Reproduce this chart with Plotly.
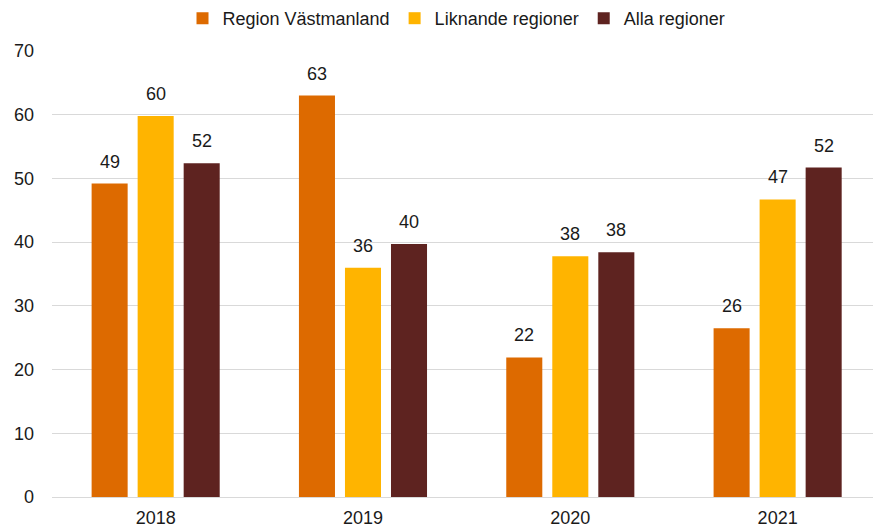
import plotly.graph_objects as go

years = ["2018", "2019", "2020", "2021"]
region_vastmanland = [49.2, 63.0, 21.9, 26.5]
liknande_regioner = [59.8, 36.0, 37.8, 46.7]
alla_regioner = [52.4, 39.7, 38.4, 51.7]

series = [
    ("Region Västmanland", region_vastmanland, "#DD6A00"),
    ("Liknande regioner", liknande_regioner, "#FFB400"),
    ("Alla regioner", alla_regioner, "#5E2320"),
]

FONT = "Liberation Sans, Arial, sans-serif"
TXT = "#1a1a1a"
bargap = 0.334
slot = (1 - bargap) / len(series)

x_idx = list(range(len(years)))

fig = go.Figure()
annotations = []
for i, (name, vals, col) in enumerate(series):
    fig.add_trace(go.Bar(
        name=name, x=x_idx, y=vals,
        marker=dict(color=col, line=dict(width=0)),
        hoverinfo="skip",
    ))
    for xi, v in zip(x_idx, vals):
        annotations.append(dict(
            x=xi + (i - 1) * slot, y=v, xref="x", yref="y",
            text=f"{round(v):d}", showarrow=False,
            yanchor="middle", yshift=22,
            font=dict(family=FONT, size=18, color=TXT),
        ))

fig.update_layout(
    width=873, height=528,
    margin=dict(l=52, r=0, t=51, b=31, autoexpand=False),
    paper_bgcolor="white", plot_bgcolor="white",
    barmode="group", bargap=bargap, bargroupgap=0.217,
    font=dict(family=FONT, size=18, color=TXT),
    showlegend=True,
    legend=dict(
        orientation="h", x=0.4927, xanchor="center", y=1.0, yanchor="top",
        yref="container", font=dict(size=18, color=TXT),
        itemwidth=30, traceorder="normal",
    ),
    annotations=annotations,
)
fig.update_xaxes(
    tickmode="array", tickvals=x_idx, ticktext=years,
    range=[-0.5, 3.46], showgrid=False, zeroline=False,
    showline=False, ticks="", ticklabelstandoff=8, automargin=False,
    tickfont=dict(size=18, color=TXT),
)
fig.update_yaxes(
    range=[0, 70], dtick=10, showgrid=True, gridcolor="#d9d9d9", gridwidth=1,
    zeroline=True, zerolinecolor="#d9d9d9", zerolinewidth=1,
    showline=False, ticks="", ticklabelstandoff=17, automargin=False,
    tickfont=dict(size=18, color=TXT),
)

fig.write_html(
    "out.html",
    config={"displayModeBar": False},
    post_script="document.body.style.margin='0';document.body.style.overflow='hidden';",
)
